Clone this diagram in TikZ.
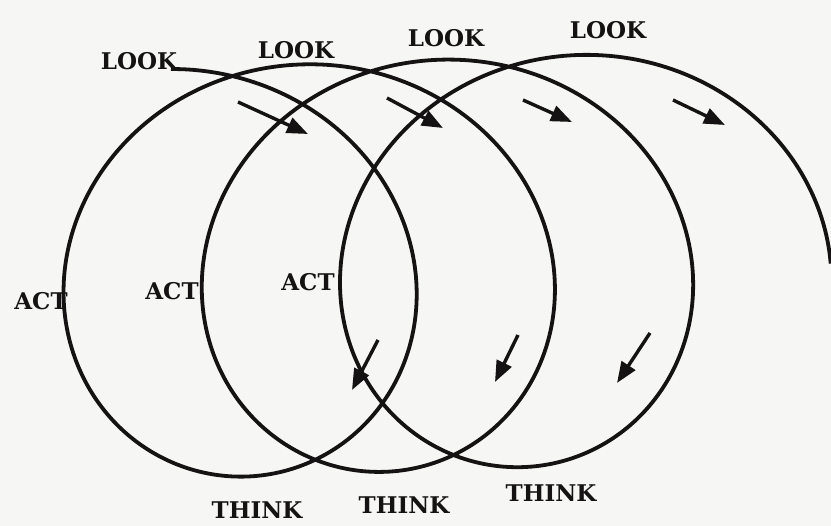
\documentclass[tikz,border=0pt]{standalone}
\usepackage{fontspec}
\setmainfont{DejaVu Serif}
\definecolor{ink}{RGB}{20,18,18}
\definecolor{paper}{RGB}{246,246,244}
\usetikzlibrary{arrows.meta}

\begin{document}
\begin{tikzpicture}[x=1pt,y=-1pt,font=\fontsize{23}{23}\selectfont\bfseries,
    coil/.style={ink,line width=3.8pt},
    flow/.style={ink,line width=3.4pt,-{Triangle[length=21pt,width=16pt]}},
    lbl/.style={inner sep=0pt,text=ink}]
  \fill[paper] (0,0) rectangle (831,526);
  \useasboundingbox (0,0) rectangle (831,526);
  % the spiral: look -> think -> act, three times round
  \draw[coil] plot[domain=0:20.45,samples=400,smooth,variable=\t]
    ({171+22*\t+210*sin(\t r)},{274-205*cos(\t r)-0.75*\t});
  % labels
  \node[lbl] (look1) at (139,61) {LOOK};
  \node[lbl] (look2) at (296,50) {LOOK};
  \node[lbl] (look3) at (446,38) {LOOK};
  \node[lbl] (look4) at (608,30) {LOOK};
  \node[lbl] (act1) at (41,301) {ACT};
  \node[lbl] (act2) at (172,291) {ACT};
  \node[lbl] (act3) at (308,282) {ACT};
  \node[lbl] (think1) at (257,510) {THINK};
  \node[lbl] (think2) at (404,505) {THINK};
  \node[lbl] (think3) at (551,493) {THINK};
  % direction arrows
  \foreach \xa/\ya/\xb/\yb in {238/102/308/134, 387/98/443/128, 523/100/572/122,
                               673/100/725/125, 378/340/352/390, 518/335/495/382,
                               650/333/617/383}
    \draw[flow] (\xa,\ya) -- (\xb,\yb);
\end{tikzpicture}
\end{document}
